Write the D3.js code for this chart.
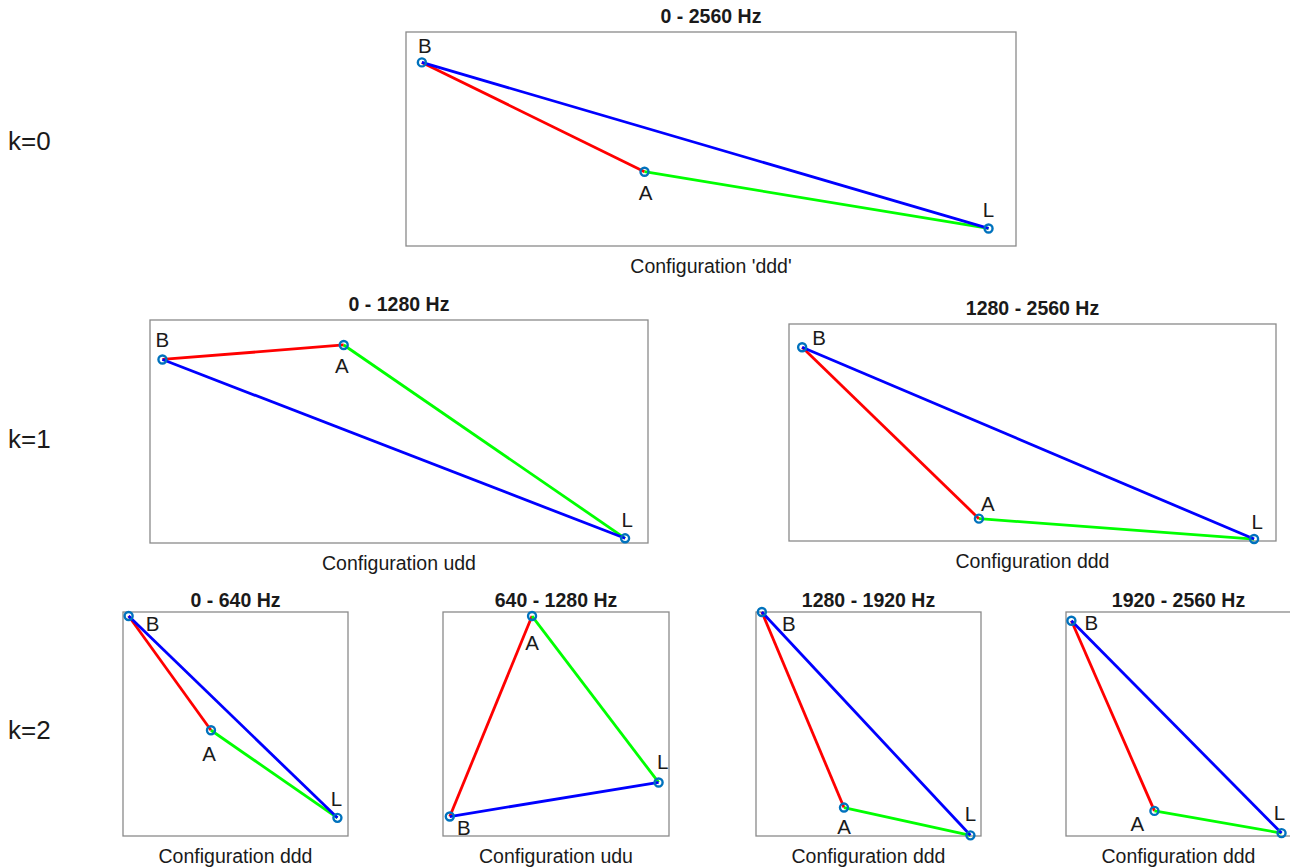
<!DOCTYPE html>
<html>
<head>
<meta charset="utf-8">
<script src="https://cdn.jsdelivr.net/npm/d3@7"></script>
<style>
  body { margin: 0; background: #fff; }
  svg { display: block; font-family: "Liberation Sans", Arial, sans-serif; }
</style>
</head>
<body>
<svg id="chart" width="1290" height="868"></svg>
<script>
// Panel texts
const titles = ["0 - 2560 Hz", "0 - 1280 Hz", "1280 - 2560 Hz", "0 - 640 Hz", "640 - 1280 Hz", "1280 - 1920 Hz", "1920 - 2560 Hz"];
const configs = ["Configuration 'ddd'", "Configuration udd", "Configuration ddd", "Configuration ddd", "Configuration udu", "Configuration ddd", "Configuration ddd"];
const rowLabels = ["k=0", "k=1", "k=2"];
const nodeNames = ["B", "A", "L"];

// Node positions per panel (normalised axis units, y pointing up)
const xB = [0.026, 0.025, 0.027, 0.025, 0.030, 0.026, 0.024];
const xA = [0.391, 0.389, 0.390, 0.391, 0.394, 0.391, 0.393];
const xL = [0.955, 0.954, 0.955, 0.953, 0.954, 0.953, 0.958];
const yB = [0.858, 0.823, 0.893, 0.982, 0.087, 1.000, 0.961];
const yA = [0.347, 0.888, 0.103, 0.472, 0.982, 0.127, 0.112];
const yL = [0.082, 0.021, 0.009, 0.081, 0.239, 0.003, 0.013];

// Layout of the axes boxes (pixels)
const boxes = [
  {x0: 406, x1: 1016, y0: 32, y1: 246, row: 0},
  {x0: 150, x1: 648, y0: 320, y1: 543, row: 1},
  {x0: 789, x1: 1276, y0: 324, y1: 541, row: 1},
  {x0: 123, x1: 348, y0: 612, y1: 836, row: 2},
  {x0: 443, x1: 669, y0: 612, y1: 836, row: 2},
  {x0: 756, x1: 981, y0: 612, y1: 836, row: 2},
  {x0: 1066, x1: 1291, y0: 612, y1: 836, row: 2}
];
const rowLabelY = [150, 448, 739];
const titleGap = [9, 8.6, 5.5];

// label offsets for B, A, L in each panel (pixels from the point)
const labelOffsets = [
  [[3, -17], [1, 21], [0, -19]],
  [[0, -20], [-2, 21], [2, -19]],
  [[17, -10], [9, -15], [3, -18]],
  [[24, 7], [-2, 23], [-1, -19]],
  [[14, 11], [0, 26], [4, -21]],
  [[27, 11], [0, 19], [0, -22]],
  [[20, 2], [-17, 13], [-2, -21]]
];

const edges = [
  {from: 0, to: 1, color: "#ff0000"},
  {from: 1, to: 2, color: "#00ff00"},
  {from: 0, to: 2, color: "#0000ff"}
];

const svg = d3.select("#chart");
const ink = "#1a1a1a";

svg.selectAll("text.row")
  .data(rowLabels)
  .enter()
  .append("text")
  .attr("class", "row")
  .attr("x", 8)
  .attr("y", (d, i) => rowLabelY[i])
  .attr("font-size", 26)
  .attr("fill", ink)
  .text(d => d);

titles.forEach((title, p) => {
  const b = boxes[p];
  const x = d3.scaleLinear().domain([0, 1]).range([b.x0, b.x1]);
  const y = d3.scaleLinear().domain([0, 1]).range([b.y1, b.y0]);

  const nodes = [
    {name: nodeNames[0], x: xB[p], y: yB[p]},
    {name: nodeNames[1], x: xA[p], y: yA[p]},
    {name: nodeNames[2], x: xL[p], y: yL[p]}
  ];

  const g = svg.append("g");

  g.append("rect")
    .attr("x", b.x0)
    .attr("y", b.y0)
    .attr("width", b.x1 - b.x0)
    .attr("height", b.y1 - b.y0)
    .attr("fill", "none")
    .attr("stroke", "#8a8a8a")
    .attr("stroke-width", 1.3);

  g.append("text")
    .attr("x", (b.x0 + b.x1) / 2)
    .attr("y", b.y0 - titleGap[b.row])
    .attr("text-anchor", "middle")
    .attr("font-size", 19.5)
    .attr("font-weight", "bold")
    .attr("fill", ink)
    .text(title);

  g.append("text")
    .attr("x", (b.x0 + b.x1) / 2)
    .attr("y", b.y1 + 27)
    .attr("text-anchor", "middle")
    .attr("font-size", 19.5)
    .attr("fill", ink)
    .text(configs[p]);

  g.selectAll("line")
    .data(edges)
    .enter()
    .append("line")
    .attr("x1", d => x(nodes[d.from].x))
    .attr("y1", d => y(nodes[d.from].y))
    .attr("x2", d => x(nodes[d.to].x))
    .attr("y2", d => y(nodes[d.to].y))
    .attr("stroke", d => d.color)
    .attr("stroke-width", 2.8);

  g.selectAll("circle")
    .data(nodes)
    .enter()
    .append("circle")
    .attr("cx", d => x(d.x))
    .attr("cy", d => y(d.y))
    .attr("r", 4)
    .attr("fill", "none")
    .attr("stroke", "#0072bd")
    .attr("stroke-width", 2.4);

  g.selectAll("text.node")
    .data(nodes)
    .enter()
    .append("text")
    .attr("class", "node")
    .attr("x", (d, i) => x(d.x) + labelOffsets[p][i][0])
    .attr("y", (d, i) => y(d.y) + labelOffsets[p][i][1])
    .attr("text-anchor", "middle")
    .attr("dominant-baseline", "central")
    .attr("font-size", 20.5)
    .attr("fill", ink)
    .text(d => d.name);
});
</script>
</body>
</html>
